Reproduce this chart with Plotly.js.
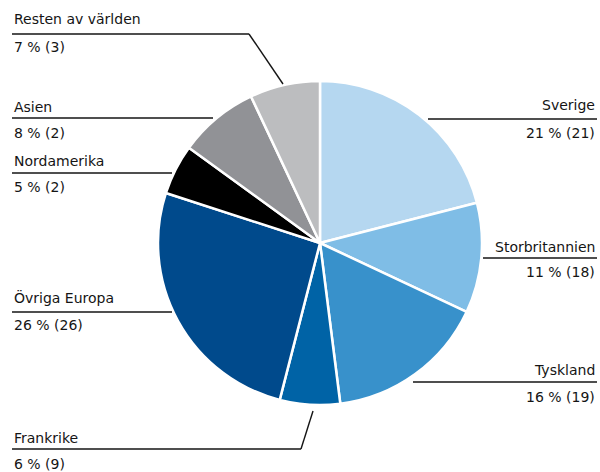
<!DOCTYPE html>
<html>
<head>
<meta charset="utf-8">
<script src="https://cdn.plot.ly/plotly-3.0.1.min.js"></script>
<style>html,body{margin:0;padding:0;background:#fff}</style>
</head>
<body>
<div id="chart" style="width:600px;height:472px"></div>
<script>
const categories = ["Sverige","Storbritannien","Tyskland","Frankrike","Övriga Europa","Nordamerika","Asien","Resten av världen"];
const shares = [21, 11, 16, 6, 26, 5, 8, 7];
const previous = [21, 18, 19, 9, 26, 2, 2, 3];
const colors = ["#b5d7f0","#7fbde6","#3891cb","#0063a6","#004a8c","#000000","#919296","#bcbdbf"];

const W = 600, H = 472;
const px = x => x / W, py = y => 1 - y / H;
const cx = 320, cy = 243, r = 162;

// label layout: [name y, line y, value y, side, line x-end, elbow target or null]
const labelLayout = {
  "Resten av världen": {ny: 19, ly: 34, vy: 47, side: "left", lx: 249, tx: 283, ty: 84},
  "Asien": {ny: 107, ly: 118, vy: 133, side: "left", lx: 213},
  "Nordamerika": {ny: 161, ly: 173, vy: 187, side: "left", lx: 172},
  "Övriga Europa": {ny: 297, ly: 312, vy: 325, side: "left", lx: 172},
  "Frankrike": {ny: 438, ly: 449, vy: 464, side: "left", lx: 301, tx: 313, ty: 411},
  "Sverige": {ny: 105, ly: 119, vy: 133, side: "right", lx: 428},
  "Storbritannien": {ny: 247, ly: 258, vy: 272, side: "right", lx: 483},
  "Tyskland": {ny: 370, ly: 382, vy: 397, side: "right", lx: 413}
};

const font = {family: "DejaVu Sans", size: 14, color: "#151515"};
const annotations = [], shapes = [];
categories.forEach((c, i) => {
  const L = labelLayout[c];
  const left = L.side === "left";
  const ax = left ? 12 : 597;
  const anchor = left ? "left" : "right";
  annotations.push({xref:"paper", yref:"paper", x: px(ax), y: py(L.ny), text: c, showarrow:false, xanchor: anchor, yanchor:"middle", font});
  annotations.push({xref:"paper", yref:"paper", x: px(ax), y: py(L.vy), text: shares[i] + " % (" + previous[i] + ")", showarrow:false, xanchor: anchor, yanchor:"middle", font});
  shapes.push({type:"line", xref:"paper", yref:"paper", x0: px(ax), x1: px(L.lx), y0: py(L.ly), y1: py(L.ly), line:{color:"#151515", width:1.4}});
  if (L.tx !== undefined) {
    shapes.push({type:"line", xref:"paper", yref:"paper", x0: px(L.lx), x1: px(L.tx), y0: py(L.ly), y1: py(L.ty), line:{color:"#151515", width:1.4}});
  }
});

const trace = {
  type: "pie",
  labels: categories,
  values: shares,
  sort: false,
  direction: "clockwise",
  rotation: 0,
  textinfo: "none",
  hoverinfo: "none",
  showlegend: false,
  marker: {colors: colors, line: {color: "#ffffff", width: 2.5}},
  domain: {x: [px(cx - r), px(cx + r)], y: [py(cy + r), py(cy - r)]}
};

Plotly.newPlot("chart", [trace], {
  width: W, height: H,
  margin: {l:0, r:0, t:0, b:0},
  paper_bgcolor: "#ffffff",
  showlegend: false,
  annotations, shapes
}, {staticPlot: true});
</script>
</body>
</html>
